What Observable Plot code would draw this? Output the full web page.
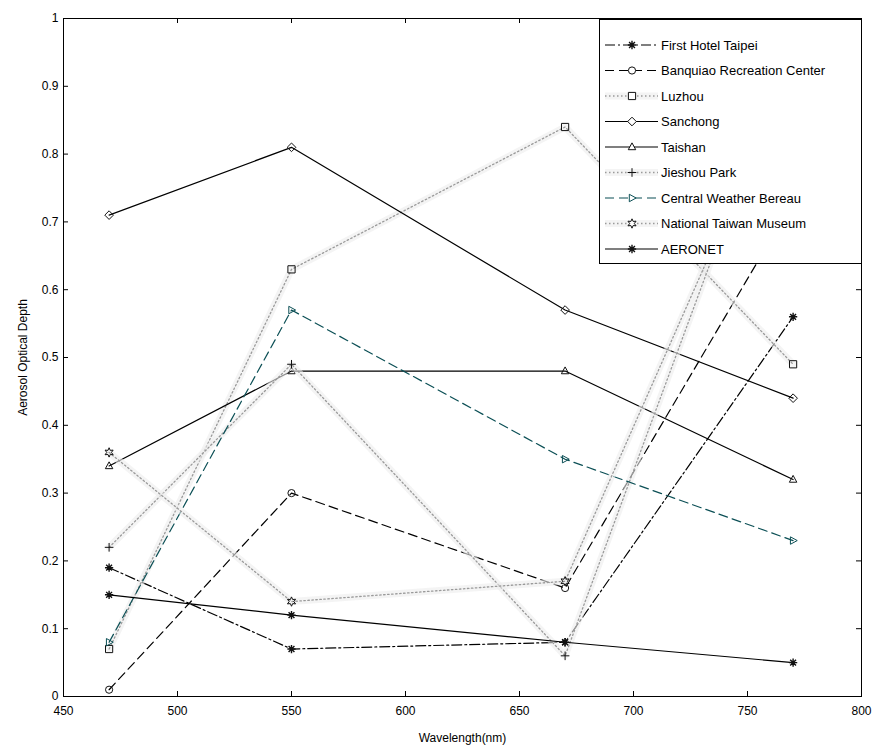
<!DOCTYPE html>
<html>
<head>
<meta charset="utf-8">
<script src="https://cdn.jsdelivr.net/npm/d3@7"></script>
<script src="https://cdn.jsdelivr.net/npm/@observablehq/plot@0.6"></script>
<style>
  body { margin: 0; background: #fff; }
  #wrap { position: relative; width: 875px; height: 748px; font-family: "Liberation Sans", Arial, sans-serif; }
  #legend { position: absolute; left: 599px; top: 19px; }
</style>
</head>
<body>
<div id="wrap"><div id="chart"></div><div id="legend"></div></div>
<script>
// ---------- data ----------
const wavelengths = [470, 550, 670, 770];
const seriesNames = [
  "First Hotel Taipei", "Banquiao Recreation Center", "Luzhou", "Sanchong", "Taishan",
  "Jieshou Park", "Central Weather Bereau", "National Taiwan Museum", "AERONET"
];
const firstHotelTaipei = [0.19, 0.07, 0.08, 0.56];
const banquiao = [0.01, 0.30, 0.16, 0.73];
const luzhou = [0.07, 0.63, 0.84, 0.49];
const sanchong = [0.71, 0.81, 0.57, 0.44];
const taishan = [0.34, 0.48, 0.48, 0.32];
const jieshouPark = [0.22, 0.49, 0.06, 0.97];
const centralWeather = [0.08, 0.57, 0.35, 0.23];
const nationalMuseum = [0.36, 0.14, 0.17, 0.93];
const aeronet = [0.15, 0.12, 0.08, 0.05];
const seriesValues = [firstHotelTaipei, banquiao, luzhou, sanchong, taishan, jieshouPark, centralWeather, nationalMuseum, aeronet];

const xTicks = [450, 500, 550, 600, 650, 700, 750, 800];
const xTickLabels = ["450", "500", "550", "600", "650", "700", "750", "800"];
const yTicks = [0, 0.1, 0.2, 0.3, 0.4, 0.5, 0.6, 0.7, 0.8, 0.9, 1];
const yTickLabels = ["0", "0.1", "0.2", "0.3", "0.4", "0.5", "0.6", "0.7", "0.8", "0.9", "1"];

// ---------- symbols ----------
const rad = s => Math.sqrt(s / Math.PI);
const symbols = {
  circle: { draw(c, s) { const r = rad(s); c.moveTo(r, 0); c.arc(0, 0, r, 0, 2 * Math.PI); } },
  square: { draw(c, s) { const r = rad(s); c.rect(-r, -r, 2 * r, 2 * r); } },
  diamond: { draw(c, s) { const r = rad(s) * 1.2; c.moveTo(0, -r); c.lineTo(r, 0); c.lineTo(0, r); c.lineTo(-r, 0); c.closePath(); } },
  triangle: { draw(c, s) { const r = rad(s) * 1.15; c.moveTo(0, -r); c.lineTo(r * 0.9, r * 0.65); c.lineTo(-r * 0.9, r * 0.65); c.closePath(); } },
  triRight: { draw(c, s) { const r = rad(s) * 1.15; c.moveTo(r, 0); c.lineTo(-r * 0.65, -r * 0.9); c.lineTo(-r * 0.65, r * 0.9); c.closePath(); } },
  plus: { draw(c, s) { const r = rad(s) * 1.2; c.moveTo(-r, 0); c.lineTo(r, 0); c.moveTo(0, -r); c.lineTo(0, r); } },
  asterisk: { draw(c, s) { const r = rad(s) * 1.15; for (let k = 0; k < 4; k++) { const a = k * Math.PI / 4; c.moveTo(-r * Math.cos(a), -r * Math.sin(a)); c.lineTo(r * Math.cos(a), r * Math.sin(a)); } } },
  hexagram: { draw(c, s) { const r = rad(s) * 1.3; for (let k = 0; k < 12; k++) { const a = -Math.PI / 2 + k * Math.PI / 6; const rr = k % 2 ? r * 0.5 : r; const px = rr * Math.cos(a), py = rr * Math.sin(a); k ? c.lineTo(px, py) : c.moveTo(px, py); } c.closePath(); } }
};

const styles = [
  { stroke: "#000", dash: "10,3,2,3", symbol: "asterisk", dotted: false },
  { stroke: "#000", dash: "9,5", symbol: "circle", dotted: false },
  { stroke: "#000", dash: null, symbol: "square", dotted: true },
  { stroke: "#000", dash: null, symbol: "diamond", dotted: false },
  { stroke: "#000", dash: null, symbol: "triangle", dotted: false },
  { stroke: "#000", dash: null, symbol: "plus", dotted: true },
  { stroke: "#0b4f55", dash: "9,5", symbol: "triRight", dotted: false },
  { stroke: "#000", dash: null, symbol: "hexagram", dotted: true },
  { stroke: "#000", dash: null, symbol: "asterisk", dotted: false }
];

const rows = [];
seriesNames.forEach((name, i) => seriesValues[i].forEach((v, j) => rows.push({ series: name, idx: i, x: wavelengths[j], y: v })));

// ---------- layout ----------
const W = 875, H = 748, mL = 63, mR = 14, mT = 18, mB = 52;
const innerW = W - mL - mR, innerH = H - mT - mB;

const marks = [];
seriesNames.forEach((name, i) => {
  const st = styles[i];
  const data = rows.filter(d => d.idx === i);
  if (st.dotted) {
    marks.push(Plot.line(data, { x: "x", y: "y", stroke: "#ededed", strokeWidth: 7, strokeOpacity: 0.6 }));
    marks.push(Plot.line(data, { x: "x", y: "y", stroke: "#9a9a9a", strokeWidth: 1.3, strokeDasharray: "1.5,2.5" }));
  } else {
    marks.push(Plot.line(data, { x: "x", y: "y", stroke: st.stroke, strokeWidth: 1.2, strokeDasharray: st.dash }));
  }
  marks.push(Plot.dot(data, { x: "x", y: "y", symbol: symbols[st.symbol], r: 3.6, fill: "none", stroke: st.stroke === "#000" ? "#111" : st.stroke, strokeWidth: st.symbol === "asterisk" ? 1.4 : 1 }));
});

const chart = Plot.plot({
  width: W, height: H,
  marginLeft: mL, marginRight: mR, marginTop: mT, marginBottom: mB,
  x: { domain: [450, 800] },
  y: { domain: [0, 1] },
  style: { fontFamily: "'Liberation Sans', Arial, sans-serif", fontSize: "12px", color: "#000", background: "#fff", overflow: "visible" },
  marks: [
    Plot.axisX(xTicks, { anchor: "bottom", tickSize: 0, tickPadding: 10, fontSize: 12, tickFormat: d => xTickLabels[xTicks.indexOf(d)], label: "Wavelength(nm)", labelAnchor: "center", labelOffset: 45, labelArrow: "none" }),
    Plot.axisY(yTicks, { anchor: "left", tickSize: 0, tickPadding: 5, fontSize: 12, tickFormat: d => yTickLabels[yTicks.indexOf(d)], label: "Aerosol Optical Depth", labelAnchor: "center", labelOffset: 45, labelArrow: "none" }),
    Plot.tickX(xTicks, { x: d => d, insetTop: innerH - 5, stroke: "#000" }),
    Plot.tickX(xTicks, { x: d => d, insetBottom: innerH - 5, stroke: "#000" }),
    Plot.tickY(yTicks, { y: d => d, insetRight: innerW - 5, stroke: "#000" }),
    Plot.tickY(yTicks, { y: d => d, insetLeft: innerW - 5, stroke: "#000" }),
    ...marks,
    Plot.frame({ stroke: "#000", strokeWidth: 1 })
  ]
});
document.getElementById("chart").appendChild(chart);

// ---------- legend (overlay box, upper right) ----------
const LW = 263, LH = 245, rowH = 25.5, firstRow = 26;
const lsvg = d3.select("#legend").append("svg").attr("width", LW).attr("height", LH)
  .style("font-family", "'Liberation Sans', Arial, sans-serif");
lsvg.append("rect").attr("x", 0.5).attr("y", 0.5).attr("width", LW - 1).attr("height", LH - 1)
  .attr("fill", "#fff").attr("stroke", "#000");
seriesNames.forEach((name, i) => {
  const st = styles[i];
  const cy = firstRow + i * rowH;
  const g = lsvg.append("g");
  if (st.dotted) {
    g.append("line").attr("x1", 6).attr("x2", 59).attr("y1", cy).attr("y2", cy)
      .attr("stroke", "#ededed").attr("stroke-width", 7).attr("stroke-opacity", 0.6);
    g.append("line").attr("x1", 6).attr("x2", 59).attr("y1", cy).attr("y2", cy)
      .attr("stroke", "#9a9a9a").attr("stroke-width", 1.3).attr("stroke-dasharray", "1.5,2.5");
  } else {
    g.append("line").attr("x1", 6).attr("x2", 59).attr("y1", cy).attr("y2", cy)
      .attr("stroke", st.stroke).attr("stroke-width", 1.2).attr("stroke-dasharray", st.dash);
  }
  g.append("path").attr("transform", `translate(33,${cy})`)
    .attr("d", d3.symbol(symbols[st.symbol], Math.PI * 3.6 * 3.6)())
    .attr("fill", "#fff").attr("stroke", st.stroke === "#000" ? "#111" : st.stroke)
    .attr("stroke-width", st.symbol === "asterisk" ? 1.4 : 1);
  g.append("text").attr("x", 62).attr("y", cy).attr("dy", "0.36em")
    .attr("font-size", 13).attr("fill", "#000").text(name);
});
</script>
</body>
</html>
